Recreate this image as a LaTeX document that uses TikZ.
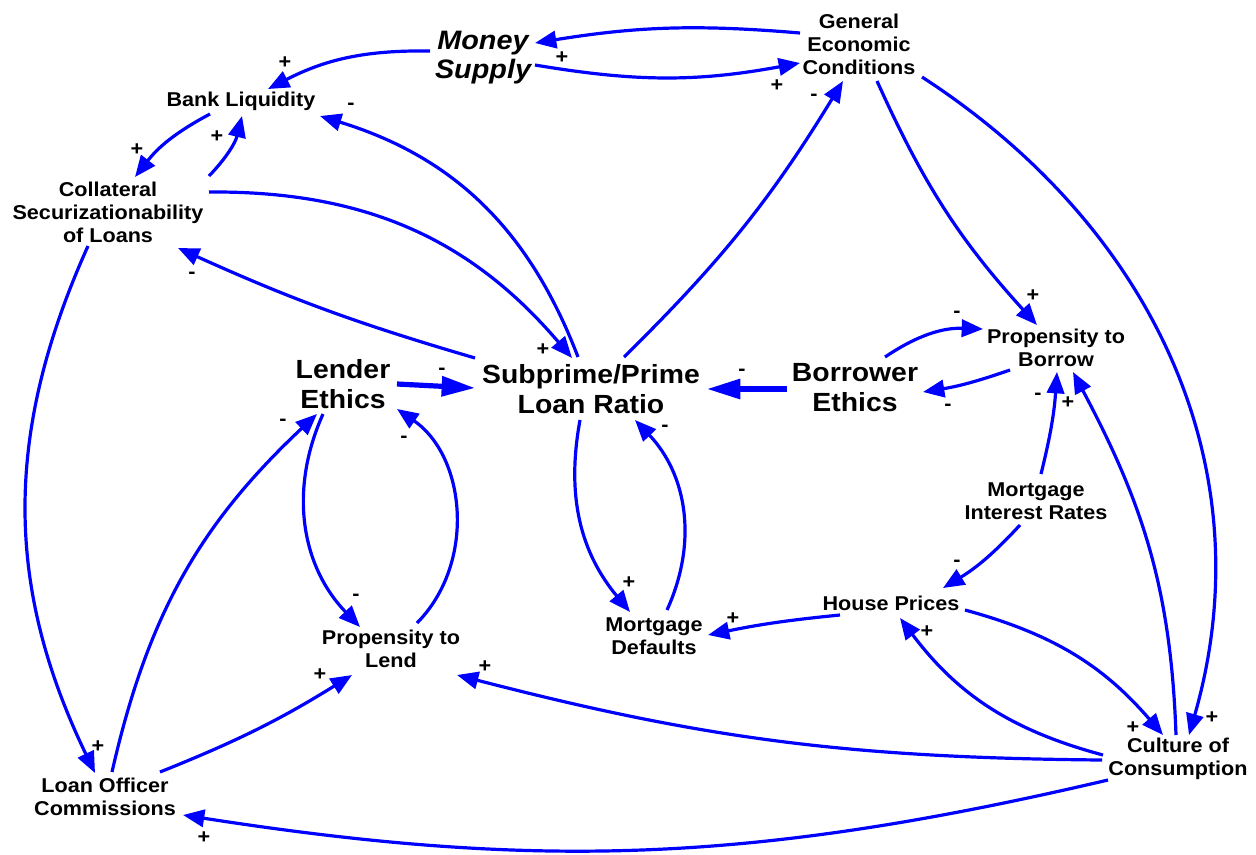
\documentclass[tikz,border=0pt]{standalone}
\usepackage{fontspec}
\setmainfont{Liberation Sans}[FakeStretch=1.08]
\usetikzlibrary{arrows.meta}
\begin{document}
\begin{tikzpicture}[x=0.75pt,y=-0.75pt,
  var/.style={font=\fontsize{15}{17.25}\selectfont\bfseries, align=center, inner sep=0pt},
  big/.style={font=\fontsize{19.7}{22.5}\selectfont\bfseries, align=center, inner sep=0pt},
  money/.style={font=\fontsize{20}{21.75}\selectfont\bfseries\itshape, align=center, inner sep=0pt},
  sgn/.style={font=\fontsize{15}{15}\selectfont\bfseries, inner sep=0pt},
  link/.style={draw=blue, line width=2.4pt, -{Triangle[length=16pt,width=13pt]}},
  heavy/.style={draw=blue, line width=3.9pt, -{Triangle[length=25pt,width=14.5pt]}}]
\useasboundingbox (0,0) rectangle (1256,854);
% nodes
\node[money] (ms) at (483,58) {Money\\Supply};
\node[var] (gec) at (859,44) {General\\Economic\\Conditions};
\node[var] (bl) at (241,101) {Bank Liquidity};
\node[var] (col) at (108,212) {Collateral\\Securizationability\\of Loans};
\node[big] (le) at (343,384) {Lender\\Ethics};
\node[big] (spr) at (591,389) {Subprime/Prime\\Loan Ratio};
\node[big] (be) at (855,388) {Borrower\\Ethics};
\node[var] (pb) at (1056,348) {Propensity to\\Borrow};
\node[var] (mir) at (1036,501) {Mortgage\\Interest Rates};
\node[var] (hp) at (891,603) {House Prices};
\node[var] (md) at (654,636) {Mortgage\\Defaults};
\node[var] (pl) at (391,649) {Propensity to\\Lend};
\node[var] (loc) at (105,797) {Loan Officer\\Commissions};
\node[var] (cc) at (1178,759) {Culture of\\Consumption};
% links
\draw[link] ([shift={(-59,-11)}]gec.center) to[bend right=7] ([shift={(52,-15)}]ms.center);
\draw[link] ([shift={(52,7)}]ms.center) to[bend right=10] ([shift={(-59,19)}]gec.center);
\draw[link] ([shift={(-53,-7)}]ms.center) to[bend right=14] ([shift={(27,-12)}]bl.center);
\draw[link] ([shift={(-31,13)}]bl.center) to[bend right=12] ([shift={(27,-35)}]col.center);
\draw[link] ([shift={(101,-36)}]col.center) to[bend right=15] ([shift={(1,15)}]bl.center);
\draw[link] ([shift={(-13,-32)}]spr.center) to[bend right=26] ([shift={(79,15)}]bl.center);
\draw[link] ([shift={(-116,-31)}]spr.center) to[bend left=4] ([shift={(70,36)}]col.center);
\draw[link] ([shift={(101,-20)}]col.center) to[bend left=25] ([shift={(-19,-31)}]spr.center);
\draw[link] ([shift={(33,-32)}]spr.center) to[bend right=7] ([shift={(-16,37)}]gec.center);
\draw[link] ([shift={(18,37)}]gec.center) to[bend right=9] ([shift={(-19,-23)}]pb.center);
\draw[link] ([shift={(63,33)}]gec.center) to[out=-33,in=74] ([shift={(11,-24)}]cc.center);
\draw[link] ([shift={(30,-31)}]be.center) to[bend left=18] ([shift={(-73,-19)}]pb.center);
\draw[link] ([shift={(-46,22)}]pb.center) to[bend left=5] ([shift={(68,4)}]be.center);
\draw[heavy] ([shift={(-68,1)}]be.center) -- ([shift={(116,0)}]spr.center);
\draw[heavy] ([shift={(54,0)}]le.center) -- ([shift={(-116,-1)}]spr.center);
\draw[link] ([shift={(-20,30)}]le.center) to[bend right=34] ([shift={(-31,-22)}]pl.center);
\draw[link] ([shift={(26,-26)}]pl.center) to[bend right=50] ([shift={(54,25)}]le.center);
\draw[link] ([shift={(7,-25)}]loc.center) to[bend left=17] ([shift={(-26,30)}]le.center);
\draw[link] ([shift={(-11,31)}]spr.center) to[bend right=25] ([shift={(-24,-24)}]md.center);
\draw[link] ([shift={(13,-26)}]md.center) to[bend right=34] ([shift={(44,31)}]spr.center);
\draw[link] ([shift={(-51,12)}]hp.center) to[bend right=3] ([shift={(54,-1)}]md.center);
\draw[link] ([shift={(5,-27)}]mir.center) to[bend right=5] ([shift={(1,24)}]pb.center);
\draw[link] ([shift={(-2,-24)}]cc.center) to[out=92,in=-62] ([shift={(17,24)}]pb.center);
\draw[link] ([shift={(-16,24)}]mir.center) to[bend left=8] ([shift={(52,-15)}]hp.center);
\draw[link] ([shift={(74,7)}]hp.center) to[bend left=17] ([shift={(-15,-24)}]cc.center);
\draw[link] ([shift={(-75,-4)}]cc.center) to[bend left=19] ([shift={(9,15)}]hp.center);
\draw[link] ([shift={(-76,1)}]cc.center) to[bend left=7] ([shift={(66,26)}]pl.center);
\draw[link] ([shift={(-70,21)}]cc.center) to[bend left=11] ([shift={(78,18)}]loc.center);
\draw[link] ([shift={(55,-25)}]loc.center) to[bend right=5] ([shift={(-39,26)}]pl.center);
\draw[link] ([shift={(-20,34)}]col.center) to[bend right=25] ([shift={(-10,-24)}]loc.center);
% polarity signs
\node[sgn] (s1) at (562,58) {+};
\node[sgn] (s2) at (777,86) {+};
\node[sgn] (s3) at (285,63) {+};
\node[sgn] (s4) at (137,150) {+};
\node[sgn] (s5) at (217,137) {+};
\node[sgn] (s6) at (351,106) {-};
\node[sgn] (s7) at (192,275) {-};
\node[sgn] (s8) at (543,350) {+};
\node[sgn] (s9) at (814,97) {-};
\node[sgn] (s10) at (1033,296) {+};
\node[sgn] (s11) at (1212,718) {+};
\node[sgn] (s12) at (957,314) {-};
\node[sgn] (s13) at (948,407) {-};
\node[sgn] (s14) at (742,372) {-};
\node[sgn] (s15) at (442,371) {-};
\node[sgn] (s16) at (356,597) {-};
\node[sgn] (s17) at (404,439) {-};
\node[sgn] (s18) at (283,422) {-};
\node[sgn] (s19) at (629,583) {+};
\node[sgn] (s20) at (665,428) {-};
\node[sgn] (s21) at (733,619) {+};
\node[sgn] (s22) at (1038,396) {-};
\node[sgn] (s23) at (1068,403) {+};
\node[sgn] (s24) at (957,563) {-};
\node[sgn] (s25) at (1133,728) {+};
\node[sgn] (s26) at (927,632) {+};
\node[sgn] (s27) at (485,667) {+};
\node[sgn] (s28) at (204,838) {+};
\node[sgn] (s29) at (320,675) {+};
\node[sgn] (s30) at (98,747) {+};
\end{tikzpicture}
\end{document}
